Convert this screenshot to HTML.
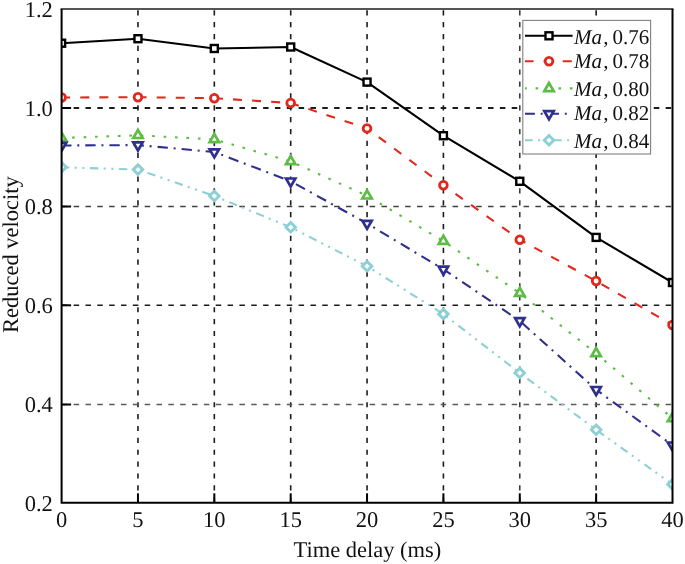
<!DOCTYPE html><html><head><meta charset="utf-8"><style>html,body{margin:0;padding:0;background:#fff;overflow:hidden;}svg{display:block;will-change:transform;}text{font-family:"Liberation Serif",serif;fill:#111;text-rendering:geometricPrecision;}</style></head><body>
<svg width="685" height="564" viewBox="0 0 685 564">
<rect width="685" height="564" fill="#fff"/>
<defs><clipPath id="cp"><rect x="61.6" y="9.0" width="610.90" height="493.80"/></clipPath></defs>
<g stroke-width="1.6"><line x1="137.96" y1="10.2" x2="137.96" y2="502.8" stroke="#1c1c1c" stroke-dasharray="5.2 6.677"/><line x1="214.32" y1="10.2" x2="214.32" y2="502.8" stroke="#1c1c1c" stroke-dasharray="5.2 6.677"/><line x1="290.69" y1="10.2" x2="290.69" y2="502.8" stroke="#1c1c1c" stroke-dasharray="5.2 6.677"/><line x1="367.05" y1="10.2" x2="367.05" y2="502.8" stroke="#1c1c1c" stroke-dasharray="5.2 6.677"/><line x1="443.41" y1="10.2" x2="443.41" y2="502.8" stroke="#1c1c1c" stroke-dasharray="5.2 6.677"/><line x1="519.77" y1="10.2" x2="519.77" y2="502.8" stroke="#3a3a3a" stroke-dasharray="5.2 6.677"/><line x1="596.14" y1="10.2" x2="596.14" y2="502.8" stroke="#1c1c1c" stroke-dasharray="5.2 6.677"/><line x1="61.8" y1="108.00" x2="672.5" y2="108.00" stroke="#1c1c1c" stroke-width="2.0" stroke-dasharray="5.5 6.34"/><line x1="61.8" y1="206.50" x2="672.5" y2="206.50" stroke="#404040" stroke-width="1.6" stroke-dasharray="5.5 6.34"/><line x1="61.8" y1="305.30" x2="672.5" y2="305.30" stroke="#1c1c1c" stroke-width="1.6" stroke-dasharray="5.5 6.34"/><line x1="61.8" y1="404.50" x2="672.5" y2="404.50" stroke="#5a5a5a" stroke-width="1.6" stroke-dasharray="5.5 6.34"/></g>
<g stroke="#000" stroke-width="2"><line x1="137.96" y1="502.8" x2="137.96" y2="493.3"/><line x1="214.32" y1="502.8" x2="214.32" y2="493.3"/><line x1="290.69" y1="502.8" x2="290.69" y2="493.3"/><line x1="367.05" y1="502.8" x2="367.05" y2="493.3"/><line x1="443.41" y1="502.8" x2="443.41" y2="493.3"/><line x1="519.77" y1="502.8" x2="519.77" y2="493.3"/><line x1="596.14" y1="502.8" x2="596.14" y2="493.3"/><line x1="61.6" y1="108.00" x2="71.1" y2="108.00"/><line x1="61.6" y1="206.50" x2="71.1" y2="206.50"/><line x1="61.6" y1="305.30" x2="71.1" y2="305.30"/><line x1="61.6" y1="404.50" x2="71.1" y2="404.50"/></g>
<g clip-path="url(#cp)">
<polyline points="61.60,43.20 137.96,38.70 214.32,48.50 290.69,47.00 367.05,82.10 443.41,135.70 519.77,181.30 596.14,237.40 672.50,282.50" fill="none" stroke="#000000" stroke-width="2.1" stroke-linejoin="round"/>
<polyline points="61.60,97.50 137.96,97.20 214.32,98.20 290.69,103.00 367.05,128.40 443.41,185.20 519.77,239.70 596.14,281.00 672.50,325.00" fill="none" stroke="#e2281c" stroke-width="2.1" stroke-dasharray="9 10.1" stroke-dashoffset="0.45" stroke-linejoin="round"/>
<polyline points="61.60,138.00 137.96,135.30 214.32,139.40 290.69,161.40 367.05,195.80 443.41,241.10 519.77,293.20 596.14,353.40 672.50,418.40" fill="none" stroke="#5cbc44" stroke-width="2.1" stroke-dasharray="2.6 8.84" stroke-dashoffset="0.85" stroke-linejoin="round"/>
<polyline points="61.60,145.50 137.96,145.10 214.32,152.00 290.69,181.20 367.05,223.50 443.41,269.30 519.77,320.90 596.14,389.70 672.50,445.20" fill="none" stroke="#2f2f8e" stroke-width="2.1" stroke-dasharray="10.3 5.8 2 6.02" stroke-dashoffset="0.4" stroke-linejoin="round"/>
<polyline points="61.60,167.30 137.96,169.60 214.32,196.00 290.69,227.30 367.05,266.20 443.41,314.10 519.77,373.00 596.14,429.80 672.50,484.40" fill="none" stroke="#8ccfd4" stroke-width="2.1" stroke-dasharray="8.3 5.4 2 5.7 2 5.6" stroke-dashoffset="0.6" stroke-linejoin="round"/>
<rect x="58.10" y="39.70" width="7.00" height="7.00" fill="#fff" stroke="#000000" stroke-width="2.4"/>
<rect x="134.46" y="35.20" width="7.00" height="7.00" fill="#fff" stroke="#000000" stroke-width="2.4"/>
<rect x="210.82" y="45.00" width="7.00" height="7.00" fill="#fff" stroke="#000000" stroke-width="2.4"/>
<rect x="287.19" y="43.50" width="7.00" height="7.00" fill="#fff" stroke="#000000" stroke-width="2.4"/>
<rect x="363.55" y="78.60" width="7.00" height="7.00" fill="#fff" stroke="#000000" stroke-width="2.4"/>
<rect x="439.91" y="132.20" width="7.00" height="7.00" fill="#fff" stroke="#000000" stroke-width="2.4"/>
<rect x="516.27" y="177.80" width="7.00" height="7.00" fill="#fff" stroke="#000000" stroke-width="2.4"/>
<rect x="592.64" y="233.90" width="7.00" height="7.00" fill="#fff" stroke="#000000" stroke-width="2.4"/>
<rect x="669.00" y="279.00" width="7.00" height="7.00" fill="#fff" stroke="#000000" stroke-width="2.4"/>
<circle cx="61.60" cy="97.50" r="3.85" fill="#fff" stroke="#e2281c" stroke-width="2.8"/>
<circle cx="137.96" cy="97.20" r="3.85" fill="#fff" stroke="#e2281c" stroke-width="2.8"/>
<circle cx="214.32" cy="98.20" r="3.85" fill="#fff" stroke="#e2281c" stroke-width="2.8"/>
<circle cx="290.69" cy="103.00" r="3.85" fill="#fff" stroke="#e2281c" stroke-width="2.8"/>
<circle cx="367.05" cy="128.40" r="3.85" fill="#fff" stroke="#e2281c" stroke-width="2.8"/>
<circle cx="443.41" cy="185.20" r="3.85" fill="#fff" stroke="#e2281c" stroke-width="2.8"/>
<circle cx="519.77" cy="239.70" r="3.85" fill="#fff" stroke="#e2281c" stroke-width="2.8"/>
<circle cx="596.14" cy="281.00" r="3.85" fill="#fff" stroke="#e2281c" stroke-width="2.8"/>
<circle cx="672.50" cy="325.00" r="3.85" fill="#fff" stroke="#e2281c" stroke-width="2.8"/>
<polygon points="61.60,132.60 56.92,140.70 66.28,140.70" fill="#fff" stroke="#5cbc44" stroke-width="2.7" stroke-linejoin="miter"/>
<polygon points="137.96,129.90 133.29,138.00 142.64,138.00" fill="#fff" stroke="#5cbc44" stroke-width="2.7" stroke-linejoin="miter"/>
<polygon points="214.32,134.00 209.65,142.10 219.00,142.10" fill="#fff" stroke="#5cbc44" stroke-width="2.7" stroke-linejoin="miter"/>
<polygon points="290.69,156.00 286.01,164.10 295.36,164.10" fill="#fff" stroke="#5cbc44" stroke-width="2.7" stroke-linejoin="miter"/>
<polygon points="367.05,190.40 362.37,198.50 371.73,198.50" fill="#fff" stroke="#5cbc44" stroke-width="2.7" stroke-linejoin="miter"/>
<polygon points="443.41,235.70 438.74,243.80 448.09,243.80" fill="#fff" stroke="#5cbc44" stroke-width="2.7" stroke-linejoin="miter"/>
<polygon points="519.77,287.80 515.10,295.90 524.45,295.90" fill="#fff" stroke="#5cbc44" stroke-width="2.7" stroke-linejoin="miter"/>
<polygon points="596.14,348.00 591.46,356.10 600.81,356.10" fill="#fff" stroke="#5cbc44" stroke-width="2.7" stroke-linejoin="miter"/>
<polygon points="672.50,413.00 667.82,421.10 677.18,421.10" fill="#fff" stroke="#5cbc44" stroke-width="2.7" stroke-linejoin="miter"/>
<polygon points="61.60,150.90 56.92,142.80 66.28,142.80" fill="#fff" stroke="#2f2f8e" stroke-width="2.7" stroke-linejoin="miter"/>
<polygon points="137.96,150.50 133.29,142.40 142.64,142.40" fill="#fff" stroke="#2f2f8e" stroke-width="2.7" stroke-linejoin="miter"/>
<polygon points="214.32,157.40 209.65,149.30 219.00,149.30" fill="#fff" stroke="#2f2f8e" stroke-width="2.7" stroke-linejoin="miter"/>
<polygon points="290.69,186.60 286.01,178.50 295.36,178.50" fill="#fff" stroke="#2f2f8e" stroke-width="2.7" stroke-linejoin="miter"/>
<polygon points="367.05,228.90 362.37,220.80 371.73,220.80" fill="#fff" stroke="#2f2f8e" stroke-width="2.7" stroke-linejoin="miter"/>
<polygon points="443.41,274.70 438.74,266.60 448.09,266.60" fill="#fff" stroke="#2f2f8e" stroke-width="2.7" stroke-linejoin="miter"/>
<polygon points="519.77,326.30 515.10,318.20 524.45,318.20" fill="#fff" stroke="#2f2f8e" stroke-width="2.7" stroke-linejoin="miter"/>
<polygon points="596.14,395.10 591.46,387.00 600.81,387.00" fill="#fff" stroke="#2f2f8e" stroke-width="2.7" stroke-linejoin="miter"/>
<polygon points="672.50,450.60 667.82,442.50 677.18,442.50" fill="#fff" stroke="#2f2f8e" stroke-width="2.7" stroke-linejoin="miter"/>
<polygon points="61.60,162.55 66.35,167.30 61.60,172.05 56.85,167.30" fill="#fff" stroke="#8ccfd4" stroke-width="2.9" stroke-linejoin="miter"/>
<polygon points="137.96,164.85 142.71,169.60 137.96,174.35 133.21,169.60" fill="#fff" stroke="#8ccfd4" stroke-width="2.9" stroke-linejoin="miter"/>
<polygon points="214.32,191.25 219.07,196.00 214.32,200.75 209.57,196.00" fill="#fff" stroke="#8ccfd4" stroke-width="2.9" stroke-linejoin="miter"/>
<polygon points="290.69,222.55 295.44,227.30 290.69,232.05 285.94,227.30" fill="#fff" stroke="#8ccfd4" stroke-width="2.9" stroke-linejoin="miter"/>
<polygon points="367.05,261.45 371.80,266.20 367.05,270.95 362.30,266.20" fill="#fff" stroke="#8ccfd4" stroke-width="2.9" stroke-linejoin="miter"/>
<polygon points="443.41,309.35 448.16,314.10 443.41,318.85 438.66,314.10" fill="#fff" stroke="#8ccfd4" stroke-width="2.9" stroke-linejoin="miter"/>
<polygon points="519.77,368.25 524.52,373.00 519.77,377.75 515.02,373.00" fill="#fff" stroke="#8ccfd4" stroke-width="2.9" stroke-linejoin="miter"/>
<polygon points="596.14,425.05 600.89,429.80 596.14,434.55 591.39,429.80" fill="#fff" stroke="#8ccfd4" stroke-width="2.9" stroke-linejoin="miter"/>
<polygon points="672.50,479.65 677.25,484.40 672.50,489.15 667.75,484.40" fill="#fff" stroke="#8ccfd4" stroke-width="2.9" stroke-linejoin="miter"/>
</g>
<line x1="60.6" y1="9.0" x2="673.5" y2="9.0" stroke="#555" stroke-width="2"/>
<path d="M61.6,9.0 V502.8 H672.5 V9.0" fill="none" stroke="#000" stroke-width="2"/>
<text x="61.60" y="527" font-size="22.5" text-anchor="middle">0</text>
<text x="137.96" y="527" font-size="22.5" text-anchor="middle">5</text>
<text x="214.32" y="527" font-size="22.5" text-anchor="middle">10</text>
<text x="290.69" y="527" font-size="22.5" text-anchor="middle">15</text>
<text x="367.05" y="527" font-size="22.5" text-anchor="middle">20</text>
<text x="443.41" y="527" font-size="22.5" text-anchor="middle">25</text>
<text x="519.77" y="527" font-size="22.5" text-anchor="middle">30</text>
<text x="596.14" y="527" font-size="22.5" text-anchor="middle">35</text>
<text x="672.50" y="527" font-size="22.5" text-anchor="middle">40</text>
<text x="52.8" y="16.70" font-size="22.5" text-anchor="end">1.2</text>
<text x="52.8" y="115.70" font-size="22.5" text-anchor="end">1.0</text>
<text x="52.8" y="214.20" font-size="22.5" text-anchor="end">0.8</text>
<text x="52.8" y="313.00" font-size="22.5" text-anchor="end">0.6</text>
<text x="52.8" y="412.20" font-size="22.5" text-anchor="end">0.4</text>
<text x="52.8" y="510.50" font-size="22.5" text-anchor="end">0.2</text>
<text x="367.4" y="557" font-size="22.5" text-anchor="middle">Time delay (ms)</text>
<text transform="translate(17.7,254.6) rotate(-90)" font-size="22.5" text-anchor="middle">Reduced velocity</text>
<rect x="522.8" y="20.4" width="127.80" height="133.60" fill="#fff" stroke="#808080" stroke-width="1.1"/>
<line x1="525" y1="35.80" x2="572.6" y2="35.80" stroke="#000000" stroke-width="2.1"/>
<rect x="545.50" y="32.30" width="7.00" height="7.00" fill="#fff" stroke="#000000" stroke-width="2.4"/>
<text x="574" y="44.00" font-size="21" font-style="italic">Ma</text>
<text x="603.2" y="44.00" font-size="21">,</text>
<text x="612.6" y="44.00" font-size="21">0.76</text>
<line x1="525" y1="61.20" x2="572.6" y2="61.20" stroke="#e2281c" stroke-width="2.1" stroke-dasharray="9 10.1" stroke-dashoffset="0.45"/>
<circle cx="549.00" cy="61.20" r="3.85" fill="#fff" stroke="#e2281c" stroke-width="2.8"/>
<text x="574" y="68.30" font-size="21" font-style="italic">Ma</text>
<text x="603.2" y="68.30" font-size="21">,</text>
<text x="612.6" y="68.30" font-size="21">0.78</text>
<line x1="525" y1="88.40" x2="572.6" y2="88.40" stroke="#5cbc44" stroke-width="2.1" stroke-dasharray="2.6 8.84" stroke-dashoffset="0.85"/>
<polygon points="549.00,83.00 544.32,91.10 553.68,91.10" fill="#fff" stroke="#5cbc44" stroke-width="2.7" stroke-linejoin="miter"/>
<text x="574" y="95.60" font-size="21" font-style="italic">Ma</text>
<text x="603.2" y="95.60" font-size="21">,</text>
<text x="612.6" y="95.60" font-size="21">0.80</text>
<line x1="525" y1="113.80" x2="572.6" y2="113.80" stroke="#2f2f8e" stroke-width="2.1" stroke-dasharray="10.3 5.8 2 6.02" stroke-dashoffset="0.4"/>
<polygon points="549.00,119.20 544.32,111.10 553.68,111.10" fill="#fff" stroke="#2f2f8e" stroke-width="2.7" stroke-linejoin="miter"/>
<text x="574" y="120.30" font-size="21" font-style="italic">Ma</text>
<text x="603.2" y="120.30" font-size="21">,</text>
<text x="612.6" y="120.30" font-size="21">0.82</text>
<line x1="525" y1="140.30" x2="572.6" y2="140.30" stroke="#8ccfd4" stroke-width="2.1" stroke-dasharray="8.3 5.4 2 5.7 2 5.6" stroke-dashoffset="0.6"/>
<polygon points="549.00,135.55 553.75,140.30 549.00,145.05 544.25,140.30" fill="#fff" stroke="#8ccfd4" stroke-width="2.9" stroke-linejoin="miter"/>
<text x="574" y="147.50" font-size="21" font-style="italic">Ma</text>
<text x="603.2" y="147.50" font-size="21">,</text>
<text x="612.6" y="147.50" font-size="21">0.84</text>
</svg></body></html>
